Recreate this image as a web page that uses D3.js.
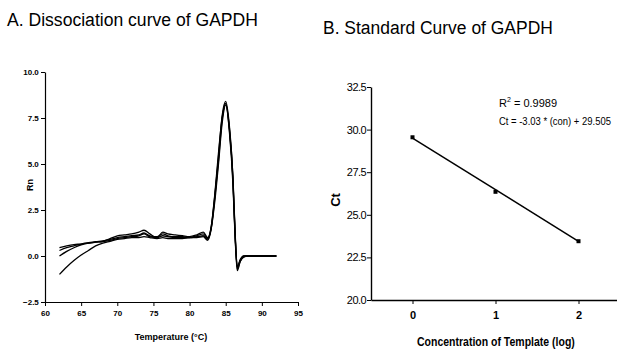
<!DOCTYPE html>
<html><head><meta charset="utf-8">
<script src="https://cdn.jsdelivr.net/npm/d3@7"></script>
<style>body{margin:0;background:#fff}svg{display:block}</style>
</head><body>
<script>
// ---- Panel A data: dissociation (melt) curves ----
const temps = [62,63,64,65,66,67,68,69,70,71,72,73,73.7,74.5,75.5,76.3,77,78,79,80,81,81.9,82.5,83,83.5,84,84.5,85,85.5,86,86.3,86.6,87,87.5,88,89,90,91,92];
const rn1 = [0.45,0.55,0.62,0.65,0.7,0.75,0.8,0.95,1.1,1.15,1.2,1.3,1.4,1.2,1.0,1.3,1.2,1.15,1.1,1.05,1.15,1.3,1.0,1.6,3.4,5.6,7.5,8.3,7.0,4.3,1.3,-0.6,-0.2,0.0,0.0,0.0,0.0,0.0,0.0];
const rn2 = [0.0,0.25,0.45,0.6,0.7,0.75,0.78,0.85,0.95,1.0,1.05,1.1,1.2,1.05,1.0,1.1,1.05,1.0,1.0,1.0,1.05,1.1,0.9,1.5,3.0,5.0,7.2,8.2,6.9,4.1,1.1,-0.7,-0.3,-0.05,0.0,0.0,0.0,0.0,0.0];
const rn3 = [-1.0,-0.6,-0.25,0.05,0.3,0.55,0.7,0.8,0.9,0.95,1.0,1.0,1.05,1.0,0.95,1.0,0.95,0.95,0.95,1.0,1.0,1.05,0.85,1.5,3.2,5.2,7.4,8.3,6.8,3.9,1.0,-0.8,-0.3,-0.05,0.0,0.0,0.0,0.0,0.0];
const rn4 = [0.3,0.45,0.55,0.65,0.72,0.78,0.82,0.9,1.0,1.05,1.1,1.15,1.25,1.1,1.05,1.2,1.1,1.05,1.05,1.0,1.1,1.2,0.95,1.6,3.3,5.4,7.6,8.4,7.1,4.2,1.2,-0.6,-0.25,0.0,0.0,0.0,0.0,0.0,0.0];
const meltSeries = [rn1, rn2, rn3, rn4];
const tempTicks = [60,65,70,75,80,85,90,95];
const rnTicks = [-2.5,0,2.5,5,7.5,10];

// ---- Panel B data: standard curve ----
const logConc = [0,1,2];
const ctValues = [29.55,26.35,23.45];
const fitSlope = -3.03, fitIntercept = 29.505;
const concTicks = [0,1,2];
const ctTicks = [20,22.5,25,27.5,30,32.5];

const W = 617, H = 352;
const svg = d3.select("body").append("svg").attr("width", W).attr("height", H)
  .style("font-family", "'Liberation Sans',Arial,sans-serif");

// fit a text horizontally into a width using a scale transform
function fitText(parent, x, y, width, size, str, opts = {}) {
  const g = parent.append("g");
  const t = g.append("text").attr("font-size", size).text(str);
  if (opts.bold) t.attr("font-weight", "bold");
  const w = t.node().getComputedTextLength();
  const s = width / w;
  const x0 = opts.center ? x - width / 2 : x;
  g.attr("transform", `translate(${x0},${y}) scale(${s},1)`);
  return t;
}

// Titles
fitText(svg, 7, 26, 251, 19, "A. Dissociation curve of GAPDH");
fitText(svg, 323, 34, 230, 19, "B. Standard Curve of GAPDH");

// ---- Panel A ----
const xA = d3.scaleLinear().domain([60,95]).range([45,298]);
const yA = d3.scaleLinear().domain([-2.5,10]).range([302,72]);
const gA = svg.append("g");
const axA_x = gA.append("g").attr("transform", `translate(0,${yA(-2.5)})`)
  .call(d3.axisBottom(xA).tickValues(tempTicks).tickSize(4).tickSizeOuter(0).tickFormat(d3.format("d")));
const axA_y = gA.append("g").attr("transform", `translate(${xA(60)},0)`)
  .call(d3.axisLeft(yA).tickValues(rnTicks).tickSize(4).tickSizeOuter(0).tickFormat(d3.format(".1f")));
[axA_x, axA_y].forEach(a => {
  a.select(".domain").attr("stroke", "#000").attr("stroke-width", 1.2);
  a.selectAll(".tick line").attr("stroke", "#000");
  a.selectAll("text").attr("font-size", 8).attr("font-weight", "bold").attr("fill", "#000");
});
axA_x.selectAll("text").attr("dy", "0.9em");
axA_y.selectAll("text").attr("dx", "0.1em");

const lineA = d3.line().x((d,i) => xA(temps[i])).y(d => yA(d)).curve(d3.curveMonotoneX);
gA.selectAll("path.melt").data(meltSeries).enter().append("path")
  .attr("class", "melt").attr("d", lineA).attr("fill", "none")
  .attr("stroke", "#000").attr("stroke-width", 1.3);

gA.append("text").attr("x", 171).attr("y", 340).attr("text-anchor", "middle")
  .attr("font-size", 9).attr("font-weight", "bold").text("Temperature (°C)");
gA.append("text").attr("transform", "translate(33,185) rotate(-90)").attr("text-anchor", "middle")
  .attr("font-size", 9).attr("font-weight", "bold").text("Rn");

// ---- Panel B ----
const xB = d3.scaleLinear().domain([-0.5,2.5]).range([371,620]);
const yB = d3.scaleLinear().domain([20,32.5]).range([300,87]);
const gB = svg.append("g");
const axB_x = gB.append("g").attr("transform", `translate(0,${yB(20)})`)
  .call(d3.axisBottom(xB).tickValues(concTicks).tickSize(4).tickSizeOuter(0).tickFormat(d3.format("d")));
const axB_y = gB.append("g").attr("transform", `translate(${xB(-0.5)},0)`)
  .call(d3.axisLeft(yB).tickValues(ctTicks).tickSize(4).tickSizeOuter(0).tickFormat(d3.format(".1f")));
[axB_x, axB_y].forEach(a => {
  a.select(".domain").attr("stroke", "#000").attr("stroke-width", 1.4);
  a.selectAll(".tick line").attr("stroke", "#000");
  a.selectAll("text").attr("font-size", 11).attr("fill", "#000");
});
axB_x.selectAll("text").attr("font-weight", "bold").attr("dy", "1.1em");
axB_y.selectAll("text").attr("dx", "0.2em").attr("letter-spacing", "-0.5");

// fitted line
const fitX = [logConc[0], logConc[logConc.length-1]];
gB.append("path").datum(fitX)
  .attr("d", d3.line().x(d => xB(d)).y(d => yB(fitSlope*d + fitIntercept)))
  .attr("stroke", "#000").attr("stroke-width", 1.5).attr("fill", "none");
gB.selectAll("rect.pt").data(logConc).enter().append("rect").attr("class", "pt")
  .attr("x", d => xB(d) - 2).attr("y", (d,i) => yB(ctValues[i]) - 2)
  .attr("width", 4).attr("height", 4).attr("fill", "#000");

const ann = gB.append("text").attr("x", 499).attr("y", 107).attr("font-size", 11);
ann.append("tspan").text("R");
ann.append("tspan").attr("font-size", 7).attr("dy", -5).text("2");
ann.append("tspan").attr("dy", 5).text(" = 0.9989");
fitText(gB, 499, 125, 112, 11, "Ct = -3.03 * (con) + 29.505");

fitText(gB, 496, 346, 158, 12, "Concentration of Template (log)", {bold: true, center: true});
gB.append("text").attr("transform", "translate(340,200) rotate(-90)").attr("text-anchor", "middle")
  .attr("font-size", 13).attr("font-weight", "bold").text("Ct");
</script>
</body></html>
